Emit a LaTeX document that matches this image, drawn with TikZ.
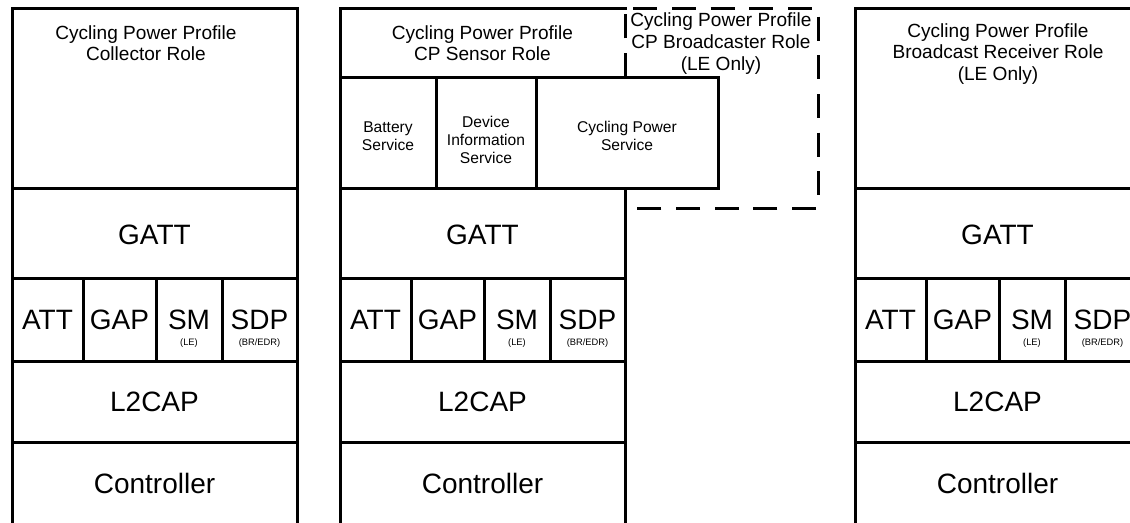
\documentclass[tikz,border=0pt]{standalone}
\usepackage{fontspec}
\setmainfont{Liberation Sans}
\begin{document}
\begin{tikzpicture}[x=0.75pt,y=-0.75pt,line width=2.25pt,line cap=rect,
    big/.style={font=\fontsize{21}{24}\selectfont,inner sep=0pt},
    role/.style={font=\fontsize{14.3}{16.2}\selectfont,align=center,inner sep=0pt},
    svc/.style={font=\fontsize{11.7}{13.5}\selectfont,align=center,inner sep=0pt},
    tiny/.style={font=\fontsize{7}{8}\selectfont,inner sep=0pt}]
        \clip (0,0) rectangle (1130,522);
        % Lower layers: same in all three stacks
        \foreach \x/\s in {12/col,340/sen,855/rec}{
            \draw (\x,8) -- (\x,530);
            \draw ({\x+285},188) -- ({\x+285},530);
            \foreach \y in {188,278,361,442}
                \draw (\x,\y) -- ({\x+285},\y);
            \foreach \d in {71,144,210}
                \draw ({\x+\d},278) -- ({\x+\d},361);
            \node[big] (gatt-\s) at ({\x+142.5},235) {GATT};
            \node[big] (att-\s) at ({\x+35.5},320) {ATT};
            \node[big] (gap-\s) at ({\x+107.5},320) {GAP};
            \node[big] (sm-\s) at ({\x+177},320) {SM};
            \node[tiny] (le-\s) at ({\x+177},343) {(LE)};
            \node[big] (sdp-\s) at ({\x+247.5},320) {SDP};
            \node[tiny] (bredr-\s) at ({\x+247.5},343) {(BR/EDR)};
            \node[big] (l2cap-\s) at ({\x+142.5},402) {L2CAP};
            \node[big] (ctrl-\s) at ({\x+142.5},483) {Controller};
        }
        % Collector
        \draw (12,8) -- (297,8) -- (297,188);
        \node[role] (collector) at (146,43) {Cycling Power Profile\\Collector Role};
        % Sensor with its services
        \draw[line cap=butt,dash pattern=on 18pt off 11pt] (625,77) -- (625,8) -- (818,8) -- (818,208) -- (625,208);
        \draw (340,8) -- (625,8);
        \draw (340,77) -- (718,77) -- (718,188) -- (625,188);
        \draw (436,77) -- (436,188);
        \draw (536,77) -- (536,188);
        \node[role] (sensor) at (482.5,43) {Cycling Power Profile\\CP Sensor Role};
        \node[role] (broadcaster) at (721,43.5) {Cycling Power Profile\\CP Broadcaster Role\\(LE Only)};
        \node[svc] (battery) at (388,136) {Battery\\Service};
        \node[svc] (devinfo) at (486,140) {Device\\Information\\Service};
        \node[svc] (cps) at (627,136) {Cycling Power\\Service};
        % Receiver
        \draw (855,8) -- (1145,8);
        \node[role] (receiver) at (998,54) {Cycling Power Profile\\Broadcast Receiver Role\\(LE Only)};
    \end{tikzpicture}
\end{document}
